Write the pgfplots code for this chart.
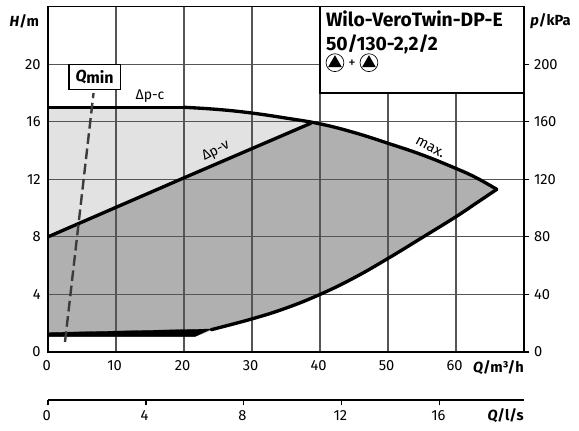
\documentclass[border=0pt]{standalone}
\usepackage{pgfplots}
\pgfplotsset{compat=1.18}
\usepackage{fontspec}
\setmainfont{Fira Sans}
\definecolor{lightfill}{HTML}{E2E2E2}
\definecolor{darkfill}{HTML}{B0B0B0}
\definecolor{gridc}{HTML}{555555}
\definecolor{qminc}{HTML}{3C3C3C}
\newcommand{\lab}{\fontsize{11}{13}\selectfont}
\pgfplotsset{base/.style={
  scale only axis,width=357pt,height=259.1pt,
  at={(36pt,58.5pt)},anchor=south west,
  xmin=0,xmax=70,ymin=0,ymax=24,
  /pgf/number format/assume math mode=true,
  tick label style={font=\lab},
}}
\begin{document}
\begin{tikzpicture}
\useasboundingbox (0,0) rectangle (434.25pt,322.5pt);
% filled regions
\begin{axis}[base,hide axis]
\addplot[fill=lightfill,draw=none] coordinates {(0,17)(20,17)(25,16.85)(30,16.6)(35,16.25)(39,15.9)(0,8)} --cycle;
\addplot[fill=darkfill,draw=none] coordinates {(0,8)(39,15.9)(40,15.85)(45,15.25)(50,14.5)(55,13.7)(60,12.75)(63,12.1)(66,11.3)(63,10.35)(60,9.4)(55.2,8)(50,6.5)(45,5.15)(40,4)(35,3.05)(30,2.3)(24,1.5)(21.6,1.05)(0,1.05)} --cycle;
\end{axis}
% grid, curves, frame
\begin{axis}[base,
  axis line style={line width=1.1pt},
  xtick={0,10,...,60},ytick={0,4,...,20},
  major tick length=0pt,
  xticklabel style={yshift=-3pt,xshift=-1pt},
  yticklabel style={xshift=-2pt},
  grid=major,grid style={gridc,line width=0.85pt},
  clip=false]
\addplot[fill=black,draw=black,line width=0.2pt] coordinates {(0,1.35)(24,1.6)(21.6,1.07)(0,1.07)} --cycle;
\addplot[black,line width=2.5pt,line join=round] coordinates {(0,8)(20,12.1)(38.7,15.9)};
\addplot[black,line width=2.6pt] coordinates {(0,17)(20,17)};
\addplot[black,line width=2.5pt,smooth,tension=0.7,line cap=round] coordinates {(20,17)(25,16.85)(30,16.6)(35,16.25)(40,15.85)(45,15.25)(50,14.5)(55,13.7)(60,12.75)(63,12.1)(66,11.3)};
\addplot[black,line width=2.5pt,smooth,tension=0.7,line cap=round] coordinates {(66,11.3)(63,10.35)(60,9.4)(55.2,8)(50,6.5)(45,5.15)(40,4)(35,3.05)(30,2.3)(24,1.55)};
\addplot[qminc,line width=1.8pt,dash pattern=on 8pt off 3.5pt] coordinates {(2.5,0.7)(6.7,18)};
\node[draw=black,fill=white,line width=1.1pt,inner sep=0pt,minimum width=38.5pt,minimum height=18.5pt,font=\fontsize{12}{14}\selectfont\bfseries] at (axis cs:6.85,19.1) {\textit{Q}\raisebox{-1.5pt}{min}};
\node[font=\fontsize{10.5}{12}\selectfont] at (axis cs:15,17.8) {Δp-c};
\node[font=\fontsize{10.5}{12}\selectfont,rotate=27] at (axis cs:24.7,13.95) {Δp-v};
\node[font=\fontsize{11}{12}\selectfont,rotate=-28] at (axis cs:56.2,14.2) {max.};
\draw[fill=white,line width=1.1pt] (axis cs:40,18) rectangle (axis cs:70,24);
\node[anchor=north west,align=left,inner sep=0pt,font=\fontsize{14.5}{18}\selectfont\bfseries] at (axis cs:40.85,23.72) {Wilo-VeroTwin-DP-E\\50/130-2,2/2};
\node[font=\lab\bfseries,anchor=east,inner sep=0pt] at (axis cs:-1.3,23) {\textit{H}/m};
\node[font=\lab\bfseries,anchor=east,inner sep=0pt] at (axis cs:70,-1.1) {\textit{Q}/m³/h};
\begin{scope}[shift={(axis cs:42.2,20.1)}]
  \draw[black,line width=0.5pt] (0,0) circle[radius=6.7pt];
  \fill[black] (-5.2pt,-3.4pt) -- (5.2pt,-3.4pt) -- (0,5.6pt) -- cycle;
\end{scope}
\begin{scope}[shift={(axis cs:47.2,20.1)}]
  \draw[black,line width=0.5pt] (0,0) circle[radius=6.7pt];
  \fill[black] (-5.2pt,-3.4pt) -- (5.2pt,-3.4pt) -- (0,5.6pt) -- cycle;
\end{scope}
\node[font=\fontsize{11}{12}\selectfont,inner sep=0pt] at (axis cs:44.7,20) {+};
\end{axis}
% right axis
\begin{axis}[base,
  axis x line=none,axis y line=right,axis line style={-,line width=1.1pt},
  ymin=0,ymax=240,ytick={0,40,...,200},
  tick style={black,line width=0.9pt},major tick length=4pt,
  tick align=outside,
  clip=false]
\addplot[draw=none] coordinates {(0,0)};
\node[font=\lab\bfseries,anchor=west,inner sep=0pt] at (axis cs:70.9,230) {\textit{p}/kPa};
\end{axis}
% lower axis
\begin{axis}[
  scale only axis,width=357pt,height=10pt,at={(36pt,22.5pt)},anchor=south west,
  xmin=0,xmax=19.444,ymin=0,ymax=1,
  axis y line=none,axis x line=bottom,axis line style={-,line width=1.1pt},
  xtick={0,4,8,12,16},
  /pgf/number format/assume math mode=true,
  tick label style={font=\lab},
  xticklabel style={xshift=-1pt},
  tick style={black,line width=0.9pt},major tick length=4pt,tick align=outside,clip=false]
\addplot[draw=none] coordinates {(0,0)};
\node[font=\lab\bfseries,anchor=east,inner sep=0pt] at (axis cs:19.444,-1.2) {\textit{Q}/l/s};
\end{axis}
\end{tikzpicture}
\end{document}
